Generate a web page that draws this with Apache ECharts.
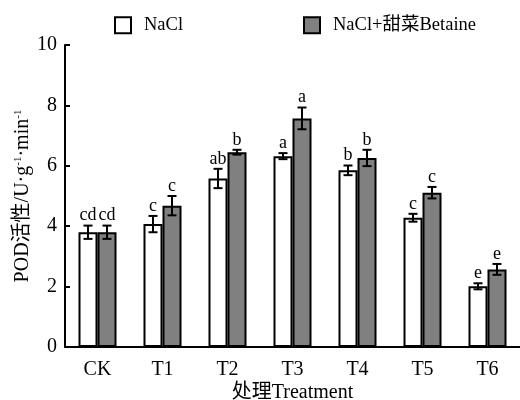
<!DOCTYPE html>
<html><head><meta charset="utf-8">
<script src="https://cdn.jsdelivr.net/npm/echarts@6/dist/echarts.min.js"></script>
<style>html,body{margin:0;padding:0;background:#fff}#c{width:520px;height:400px}</style>
</head><body><div id="c"></div>
<script>
var categories = ['CK','T1','T2','T3','T4','T5','T6'];
var naclValues = [3.80, 4.07, 5.58, 6.32, 5.85, 4.28, 2.01];
var naclErrors = [0.22, 0.27, 0.32, 0.10, 0.16, 0.13, 0.10];
var naclLetters = ['cd','c','ab','a','b','c','e'];
var betValues = [3.80, 4.68, 6.45, 7.57, 6.26, 5.11, 2.57];
var betErrors = [0.22, 0.32, 0.08, 0.36, 0.27, 0.19, 0.18];
var betLetters = ['cd','c','b','a','b','c','e'];
var yTicks = [0, 2, 4, 6, 8, 10];

var FONT = "'Liberation Serif','Noto Sans CJK SC',serif";
var chart = echarts.init(document.getElementById('c'));

function errRender(vals, errs, letters, off) {
  return function (params, api) {
    var i = api.value(0);
    var v = vals[i], e = errs[i];
    var top = api.coord([i, v + e]);
    var bot = api.coord([i, v - e]);
    var x = top[0] + off;
    var cap = 4.5;
    var st = {stroke: '#000', lineWidth: 2};
    return {type: 'group', children: [
      {type: 'line', shape: {x1: x, y1: top[1], x2: x, y2: bot[1]}, style: st},
      {type: 'line', shape: {x1: x - cap, y1: top[1], x2: x + cap, y2: top[1]}, style: st},
      {type: 'line', shape: {x1: x - cap, y1: bot[1], x2: x + cap, y2: bot[1]}, style: st},
      {type: 'text', style: {text: letters[i], x: x, y: top[1] - 1, textAlign: 'center', textVerticalAlign: 'bottom', font: '18px ' + FONT, fill: '#000'}}
    ]};
  };
}

var idx = categories.map(function (c, i) { return [i]; });

chart.setOption({
  animation: false,
  textStyle: {fontFamily: FONT, color: '#000'},
  legend: [
    {left: 109, top: 11, itemWidth: 16, itemHeight: 16, icon: 'rect', data: ['NaCl'],
     textStyle: {fontFamily: FONT, fontSize: 18.5, color: '#000', padding: [0,0,0,8]}},
    {left: 298, top: 11, itemWidth: 16, itemHeight: 16, icon: 'rect', data: ['NaCl+甜菜Betaine'],
     textStyle: {fontFamily: FONT, fontSize: 18.5, color: '#000', padding: [0,0,0,8]}}
  ],
  grid: {left: 65, right: 0, top: 45, bottom: 53, containLabel: false, outerBoundsMode: 'none'},
  xAxis: {
    type: 'category', data: categories,
    name: '处理Treatment', nameLocation: 'middle', nameGap: 36, nameMoveOverlap: false,
    nameTextStyle: {fontFamily: FONT, fontSize: 20, color: '#000'},
    axisLine: {lineStyle: {color: '#000', width: 2}},
    axisTick: {inside: true, length: 5, lineStyle: {color: '#000', width: 2}},
    axisLabel: {fontFamily: FONT, fontSize: 20, color: '#000', margin: 13}
  },
  yAxis: {
    type: 'value', min: 0, max: 10, interval: 2,
    name: 'POD活性/U·g{s|-1}·min{s|-1}', nameLocation: 'middle', nameGap: 32, nameRotate: 90,
    nameMoveOverlap: false,
    nameTextStyle: {fontFamily: FONT, fontSize: 20, color: '#000',
      rich: {s: {fontFamily: FONT, fontSize: 11, color: '#000', verticalAlign: 'top', padding: [0,0,9,0]}}},
    axisLine: {show: true, lineStyle: {color: '#000', width: 2}},
    axisTick: {show: true, inside: true, length: 5, lineStyle: {color: '#000', width: 2}},
    axisLabel: {fontFamily: FONT, fontSize: 20, color: '#000', margin: 8,
      formatter: function (v) { return yTicks.indexOf(v) >= 0 ? String(v) : ''; }},
    splitLine: {show: false}
  },
  series: [
    {name: 'NaCl', type: 'bar', data: naclValues, barWidth: 19, barGap: '0%',
     itemStyle: {color: '#fff', borderColor: '#000', borderWidth: 2}},
    {name: 'NaCl+甜菜Betaine', type: 'bar', data: betValues, barWidth: 19, barGap: '0%',
     itemStyle: {color: '#808080', borderColor: '#000', borderWidth: 2}},
    {type: 'custom', data: idx, renderItem: errRender(naclValues, naclErrors, naclLetters, -9.5), z: 10},
    {type: 'custom', data: idx, renderItem: errRender(betValues, betErrors, betLetters, 9.5), z: 10}
  ]
});
</script></body></html>
